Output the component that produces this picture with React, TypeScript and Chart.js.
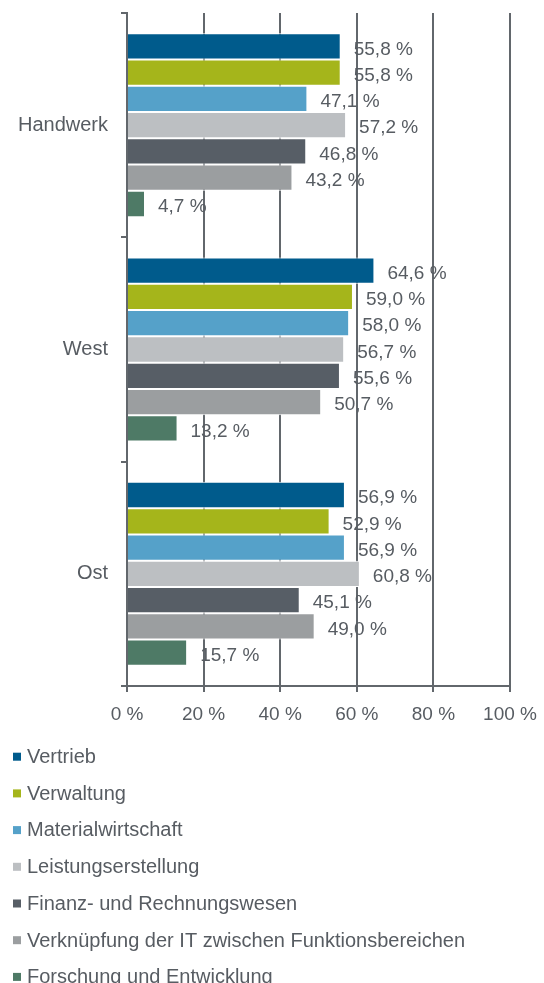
import { useEffect, useRef } from "react";
import { Chart, registerables } from "chart.js";

Chart.register(...registerables);

// ---- Data ----
const categories = ["Handwerk", "West", "Ost"];
const seriesNames = [
  "Vertrieb",
  "Verwaltung",
  "Materialwirtschaft",
  "Leistungserstellung",
  "Finanz- und Rechnungswesen",
  "Verknüpfung der IT zwischen Funktionsbereichen",
  "Forschung und Entwicklung",
];
const vertrieb = [55.8, 64.6, 56.9];
const verwaltung = [55.8, 59.0, 52.9];
const materialwirtschaft = [47.1, 58.0, 56.9];
const leistungserstellung = [57.2, 56.7, 60.8];
const finanzRechnungswesen = [46.8, 55.6, 45.1];
const verknuepfungIT = [43.2, 50.7, 49.0];
const forschungEntwicklung = [4.7, 13.2, 15.7];
const xTickValues = [0, 20, 40, 60, 80, 100];

const seriesValues = [
  vertrieb,
  verwaltung,
  materialwirtschaft,
  leistungserstellung,
  finanzRechnungswesen,
  verknuepfungIT,
  forschungEntwicklung,
];
const seriesColors = [
  "#005b8c",
  "#a5b51b",
  "#55a1c9",
  "#bcbfc2",
  "#575e66",
  "#9b9ea0",
  "#4e7a66",
];

const FONT = "'Liberation Sans', Arial, sans-serif";
const TEXT = "#575c62";
const LINE = "#62676c";

const fmt = (v: number) => v.toFixed(1).replace(".", ",") + " %";

const valueLabels = {
  id: "valueLabels",
  afterDatasetsDraw(chart: any) {
    const ctx = chart.ctx;
    ctx.save();
    ctx.font = `19px ${FONT}`;
    ctx.fillStyle = TEXT;
    ctx.textAlign = "left";
    ctx.textBaseline = "middle";
    chart.data.datasets.forEach((ds: any, di: number) => {
      const meta = chart.getDatasetMeta(di);
      meta.data.forEach((el: any, i: number) => {
        ctx.fillText(fmt(ds.data[i]), el.x + 13, el.y + 3);
      });
    });
    ctx.restore();
  },
};

const listLegend = {
  id: "listLegend",
  afterDraw(chart: any) {
    const ctx = chart.ctx;
    const top = chart.chartArea.bottom + 77;
    const step = 36.7;
    ctx.save();
    ctx.font = `20px ${FONT}`;
    ctx.textAlign = "left";
    ctx.textBaseline = "alphabetic";
    chart.data.datasets.forEach((ds: any, i: number) => {
      const base = top + i * step;
      ctx.fillStyle = ds.backgroundColor;
      ctx.fillRect(13, base - 10.3, 8, 8);
      ctx.fillStyle = TEXT;
      ctx.fillText(ds.label, 27, base);
    });
    ctx.restore();
  },
};

export default function App() {
  const ref = useRef<HTMLCanvasElement>(null);

  useEffect(() => {
    if (!ref.current) return;
    const chart = new Chart(ref.current, {
      type: "bar",
      data: {
        labels: categories,
        datasets: seriesNames.map((name, i) => ({
          label: name,
          data: seriesValues[i],
          backgroundColor: seriesColors[i],
          borderColor: "#ffffff",
          borderWidth: 1,
          borderSkipped: "start",
          categoryPercentage: 0.82,
          barPercentage: 1,
        })),
      },
      options: {
        indexAxis: "y",
        responsive: false,
        animation: false,
        layout: { padding: { top: 13, right: 34, bottom: 253, left: 0 } },
        plugins: {
          legend: { display: false },
          tooltip: { enabled: false },
        },
        scales: {
          x: {
            min: 0,
            max: 100,
            afterBuildTicks: (scale: any) => {
              scale.ticks = xTickValues.map((v) => ({ value: v }));
            },
            afterFit: (scale: any) => {
              scale.height = 44;
              scale.paddingLeft = 0;
              scale.paddingRight = 0;
            },
            ticks: {
              callback: (v: any) => `${v} %`,
              font: { family: FONT, size: 19 },
              color: TEXT,
              padding: 11,
              maxRotation: 0,
            },
            grid: {
              color: LINE,
              lineWidth: 2,
              drawTicks: true,
              tickLength: 6,
            },
            border: { display: true, color: LINE, width: 2 },
          },
          y: {
            afterFit: (scale: any) => {
              scale.width = 127;
              scale.paddingTop = 0;
              scale.paddingBottom = 0;
            },
            ticks: {
              font: { family: FONT, size: 20 },
              color: TEXT,
              padding: 13,
            },
            grid: {
              offset: true,
              drawOnChartArea: false,
              drawTicks: true,
              tickLength: 6,
              color: LINE,
              lineWidth: 2,
            },
            border: { display: true, color: LINE, width: 2 },
          },
        },
      },
      plugins: [valueLabels, listLegend],
    });
    return () => chart.destroy();
  }, []);

  return (
    <div style={{ position: "absolute", left: 0, top: 0, width: 544, height: 983, background: "#fff" }}>
      <canvas ref={ref} width={544} height={983} style={{ display: "block" }} />
    </div>
  );
}
